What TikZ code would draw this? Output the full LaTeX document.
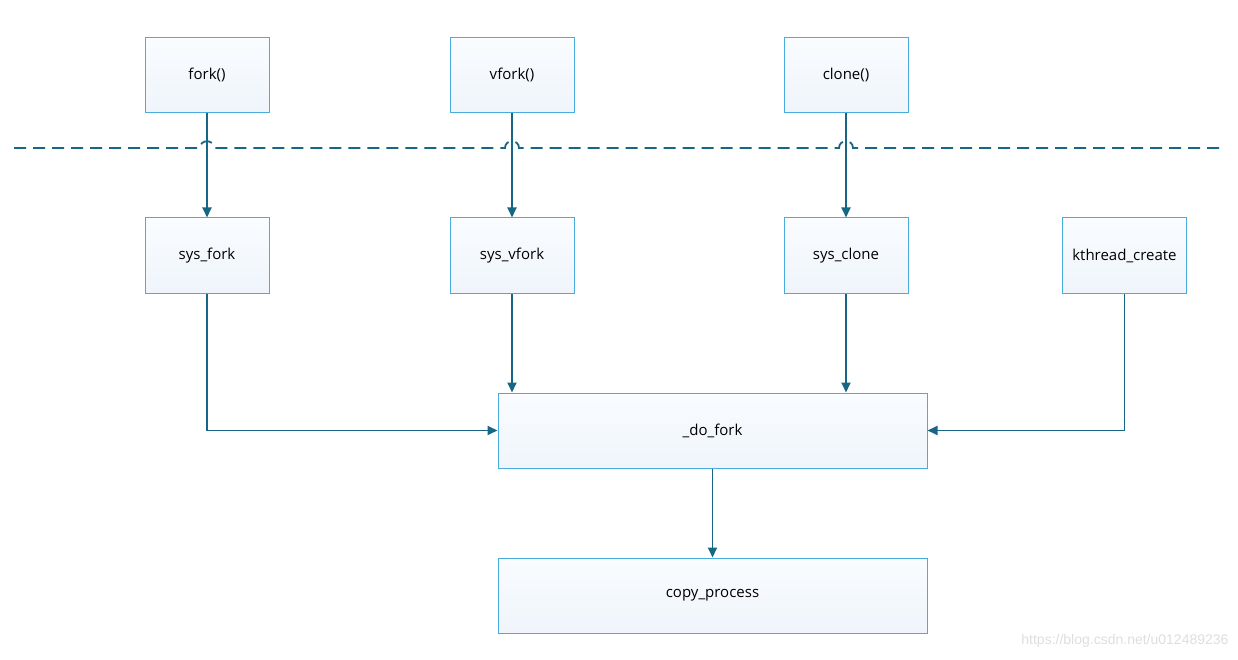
\documentclass[tikz,border=0pt]{standalone}
\usepackage{fontspec}
\setmainfont{Open Sans}
\newfontfamily\wmfont{Liberation Sans}
\usetikzlibrary{arrows.meta,positioning,calc}
\definecolor{boxline}{RGB}{72,172,222}
\definecolor{boxtop}{RGB}{250,252,255}
\definecolor{boxbot}{RGB}{239,245,251}
\definecolor{flowline}{RGB}{22,102,132}
\tikzset{
funcbox/.style={draw=boxline, line width=1pt, top color=boxtop, bottom color=boxbot, align=center, inner sep=2pt, minimum width=124pt, minimum height=75pt, font=\fontsize{15}{17}\selectfont},
widebox/.style={funcbox, minimum width=429pt},
flowarrow/.style={-{Triangle[length=10pt,width=9pt]}, draw=flowline, line width=1.8pt},
boundary/.style={draw=flowline, line width=1.8pt, dash pattern=on 12pt off 7pt}
}
\begin{document}
\begin{tikzpicture}[x=1pt,y=-1pt]
\useasboundingbox (0,0) rectangle (1238,660);
% user space calls
\node[funcbox] (fork) at (207,75) {fork()};
\node[funcbox] (vfork) at (512,75) {vfork()};
\node[funcbox] (clone) at (846,75) {clone()};

% user / kernel boundary
\draw[boundary] (14,148) -- (200,148) .. controls (200,139) and (214,139) .. (214,148)
  -- (505,148) .. controls (505,139) and (519,139) .. (519,148)
  -- (839,148) .. controls (839,139) and (853,139) .. (853,148) -- (1224,148);

% system calls
\node[funcbox] (sysfork) at (207,255.5) {sys\_fork};
\node[funcbox] (sysvfork) at (512,255.5) {sys\_vfork};
\node[funcbox] (sysclone) at (846,255.5) {sys\_clone};
\node[funcbox] (kthread) at (1124.5,255.5) {kthread\_create};

\node[widebox] (dofork) at (712.5,430.5) {\_do\_fork};
\node[widebox] (copyproc) at (712.5,595.5) {copy\_process};

\draw[flowarrow] (fork) -- (sysfork);
\draw[flowarrow] (vfork) -- (sysvfork);
\draw[flowarrow] (clone) -- (sysclone);

\draw[flowarrow] (sysfork.south) |- (dofork.west);
\draw[flowarrow] (sysvfork.south) -- (sysvfork.south |- dofork.north);
\draw[flowarrow] (sysclone.south) -- (sysclone.south |- dofork.north);
\draw[flowarrow] (kthread.south) |- (dofork.east);
\draw[flowarrow] (dofork) -- (copyproc);

\node[anchor=east, text=black!13, font=\wmfont\fontsize{14}{16}\selectfont] (mark) at (1232,641) {https://blog.csdn.net/u012489236};
\end{tikzpicture}
\end{document}
